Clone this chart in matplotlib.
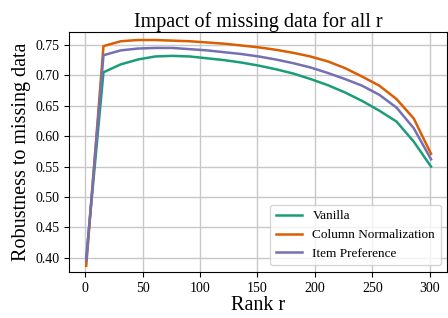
import numpy as np
import matplotlib
matplotlib.use('Agg')
from matplotlib import pyplot as plt

plt.rcParams['font.family'] = ['Liberation Serif', 'DejaVu Serif']
plt.rcParams['mathtext.fontset'] = 'stix'

ranks = list(range(1, 302, 15))

vanilla = [0.400, 0.705, 0.718, 0.726, 0.731, 0.732, 0.731, 0.728, 0.725, 0.721,
           0.716, 0.710, 0.703, 0.694, 0.684, 0.672, 0.658, 0.642, 0.624, 0.591, 0.550]
col_norm = [0.387, 0.748, 0.756, 0.758, 0.758, 0.757, 0.756, 0.754, 0.752, 0.749,
            0.746, 0.742, 0.737, 0.731, 0.723, 0.712, 0.698, 0.683, 0.661, 0.629, 0.571]
item_pref = [0.395, 0.733, 0.741, 0.744, 0.745, 0.745, 0.743, 0.741, 0.738, 0.735,
             0.731, 0.726, 0.720, 0.713, 0.704, 0.694, 0.683, 0.668, 0.647, 0.613, 0.562]

colors = ['#1b9e77', '#d95f02', '#7570b3']

fig = plt.figure(figsize=(4.48, 3.18), dpi=100)
ax = fig.add_axes([0.154, 0.145, 0.844, 0.754])

ax.plot(ranks, vanilla, color=colors[0], lw=1.8, label='Vanilla')
ax.plot(ranks, col_norm, color=colors[1], lw=1.8, label='Column Normalization')
ax.plot(ranks, item_pref, color=colors[2], lw=1.8, label='Item Preference')

ax.grid(True, color='#c8c8c8', lw=1.0)
ax.set_axisbelow(True)
ax.set_xticks([0, 50, 100, 150, 200, 250, 300])
ax.set_yticks([0.40, 0.45, 0.50, 0.55, 0.60, 0.65, 0.70, 0.75])
ax.set_xlim(-14, 315)
ax.set_ylim(0.377, 0.771)
ax.tick_params(labelsize=10)
ax.set_xlabel('Rank r', fontsize=14.5, labelpad=1)
ax.set_ylabel('Robustness to missing data', fontsize=14.5, labelpad=3)
ax.set_title('Impact of missing data for all r', fontsize=14.5, pad=3)
ax.legend(loc='lower right', fontsize=9.5, fancybox=True)

fig.savefig('out.png', dpi=100)
